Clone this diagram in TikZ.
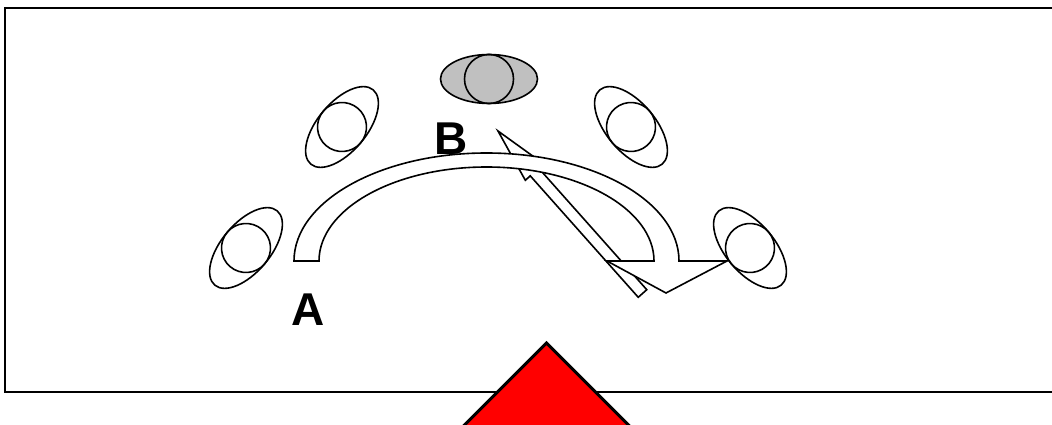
\documentclass[tikz,border=0pt]{standalone}
\usepackage{fontspec}
\setmainfont{Liberation Sans}
\definecolor{silver}{RGB}{192,192,192}

\begin{document}
\begin{tikzpicture}[x=1pt,y=1pt,line width=1.6pt,
  lbl/.style={inner sep=0pt,font=\fontsize{46}{50}\selectfont\bfseries}]
  \clip (0,0) rectangle (1052,425);
  \draw[line width=2pt] (5,33) rectangle (1070,417);
  % tilted eyes
  \foreach \x/\y/\a in {246/177/50,342/298/50,631/298/-50,750/177/-50}{
    \begin{scope}[shift={(\x,\y)},rotate=\a]
      \draw (0,0) ellipse (48.5 and 24.5);
      \draw (0,0) circle (24.5);
    \end{scope}}
  \filldraw[fill=silver] (489,346) ellipse (48.5 and 24.5);
  \draw (489,346) circle (24.5);
  % thin arrow
  \begin{scope}[shift={(642.5,131.5)},rotate=131.65]
    \filldraw[fill=white] (0,-5.7) -- (162.5,-5.7) -- (162.5,-12.3) -- (217.5,0)
      -- (162.5,12.3) -- (162.5,5.7) -- (0,5.7) -- cycle;
  \end{scope}
  % curved arrow
  \filldraw[fill=white] (294,164) arc[start angle=180,end angle=0,x radius=192.5,y radius=108]
    -- (727,164) -- (666,132) -- (607,164) -- (654,164)
    arc[start angle=0,end angle=180,x radius=167.5,y radius=94] -- cycle;
  \node[lbl] (A) at (308,115) {A};
  \node[lbl] (B) at (451,286) {B};
  \filldraw[fill=red,line width=3pt] (546.5,82) -- (444.5,-20) -- (648.5,-20) -- cycle;
\end{tikzpicture}
\end{document}
